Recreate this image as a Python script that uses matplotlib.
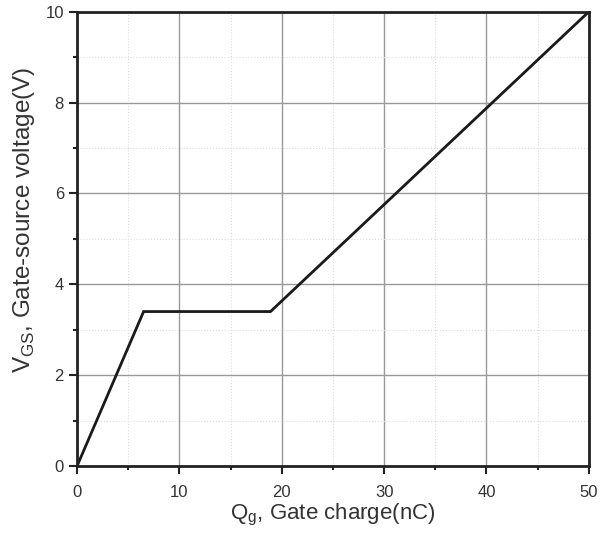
import matplotlib
matplotlib.use('Agg')
import matplotlib.pyplot as plt
from matplotlib.ticker import MultipleLocator

plt.rcParams['font.family'] = ['Liberation Sans', 'DejaVu Sans']

# gate charge curve (nC, V)
qg = [0, 6.5, 18.9, 50]
vgs = [0, 3.4, 3.4, 10]

fig = plt.figure(figsize=(6.07, 5.35), dpi=100)
ax = fig.add_axes([0.127, 0.129, 0.843, 0.849])

ax.plot(qg, vgs, color='#1a1a1a', linewidth=2.0, solid_joinstyle='miter')

ax.set_xlim(0, 50)
ax.set_ylim(0, 10)
ax.xaxis.set_major_locator(MultipleLocator(10))
ax.xaxis.set_minor_locator(MultipleLocator(5))
ax.yaxis.set_major_locator(MultipleLocator(2))
ax.yaxis.set_minor_locator(MultipleLocator(1))

ax.grid(True, which='major', color='#999999', linewidth=1.0)
ax.grid(True, which='minor', color='#dddddd', linewidth=0.8, linestyle=':')

for s in ax.spines.values():
    s.set_linewidth(2.0)
    s.set_color('#222222')

ax.tick_params(which='major', direction='out', length=6, width=1.5, labelsize=12, colors='#222222')
ax.tick_params(which='minor', direction='out', length=3, width=1.5, colors='#222222')
ax.tick_params(axis='x', pad=8)
ax.tick_params(labelcolor='#333333')

ax.set_xlabel('Q$_\\mathregular{g}$, Gate charge(nC)', fontsize=16, color='#333333')
ax.set_ylabel('V$_\\mathregular{GS}$, Gate-source voltage(V)', fontsize=17.5, color='#333333')
ax.xaxis.set_label_coords(0.499, -0.078)
ax.yaxis.set_label_coords(-0.078, 0.542)

fig.savefig('out.png', dpi=100)
